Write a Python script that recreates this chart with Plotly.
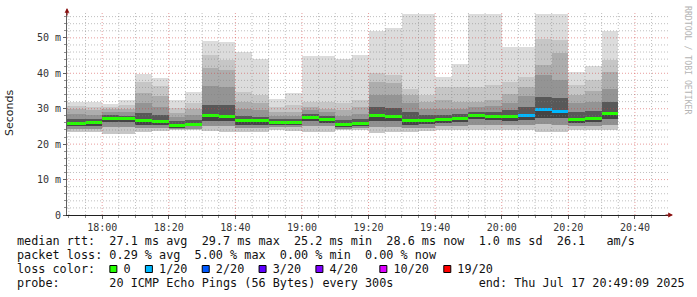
import plotly.graph_objects as go
import pandas as pd

# ---- data ----
end_times = ["17:50", "17:55", "18:00", "18:05", "18:10", "18:15", "18:20", "18:25", "18:30",
             "18:35", "18:40", "18:45", "18:50", "18:55", "19:00", "19:05", "19:10", "19:15",
             "19:20", "19:25", "19:30", "19:35", "19:40", "19:45", "19:50", "19:55", "20:00",
             "20:05", "20:10", "20:15", "20:20", "20:25", "20:30", "20:35"]
p_max = [32.0, 32.0, 31.8, 31.4, 32.6, 39.8, 38.6, 32.6, 34.6, 49.2, 48.9, 46.1, 44.1, 32.8, 34.3,
         45.0, 44.8, 44.1, 45.2, 51.9, 52.8, 56.6, 56.6, 38.9, 42.7, 56.6, 56.6, 47.4, 47.4, 56.6,
         56.6, 40.4, 42.1, 51.9]
p_hi4 = [30.8, 30.8, 30.6, 30.5, 31.0, 37.5, 36.5, 30.2, 31.5, 45.2, 43.8, 34.8, 33.8, 30.5, 31.0,
         32.0, 31.8, 31.5, 32.5, 40.1, 39.6, 35.7, 34.0, 36.0, 36.0, 36.0, 36.6, 37.5, 38.9, 49.8,
         49.3, 36.6, 38.0, 43.7]
p_hi3 = [29.8, 29.8, 29.5, 29.8, 30.0, 34.5, 33.5, 28.8, 29.8, 41.5, 41.0, 32.0, 31.5, 29.0, 29.0,
         30.5, 30.0, 29.5, 30.5, 37.5, 37.3, 33.8, 32.0, 32.5, 32.0, 32.0, 32.5, 34.2, 36.0, 42.3,
         45.6, 34.0, 35.0, 40.4]
p_hi2 = [28.5, 28.5, 28.3, 29.0, 29.0, 31.5, 30.5, 27.8, 28.3, 36.5, 36.2, 30.0, 29.5, 28.0, 28.0,
         29.5, 29.0, 28.0, 28.5, 34.0, 33.8, 31.5, 30.0, 29.8, 30.0, 30.5, 30.8, 31.5, 33.5, 39.4,
         38.0, 31.5, 32.0, 35.7]
p_hi1 = [27.0, 27.0, 27.0, 28.2, 28.0, 28.8, 28.2, 26.5, 26.8, 31.0, 31.0, 28.0, 27.8, 27.0, 27.0,
         28.4, 28.0, 26.8, 27.0, 30.5, 30.3, 29.0, 28.3, 28.3, 28.5, 29.0, 29.2, 29.5, 30.5, 33.3,
         32.9, 29.0, 29.3, 32.0]
p_med = [25.9, 25.9, 26.1, 27.3, 27.2, 26.7, 26.5, 25.2, 25.6, 28.0, 27.8, 26.6, 26.6, 26.1, 26.1,
         27.4, 26.9, 25.5, 25.8, 28.0, 27.9, 26.7, 26.7, 26.9, 27.3, 28.0, 27.9, 27.7, 28.1, 29.7,
         29.3, 27.0, 27.3, 28.6]
p_lo1 = [25.0, 25.0, 25.2, 26.3, 26.3, 25.5, 25.5, 24.8, 25.0, 26.5, 26.5, 25.5, 25.5, 25.5, 25.5,
         26.5, 26.0, 25.0, 25.2, 26.5, 26.5, 25.5, 25.6, 26.0, 26.3, 27.0, 26.8, 26.6, 26.8, 27.5,
         27.3, 26.0, 26.3, 27.0]
p_lo2 = [24.2, 24.2, 24.2, 24.8, 24.8, 24.5, 24.5, 24.4, 24.5, 25.0, 25.0, 24.5, 24.5, 24.8, 24.8,
         25.0, 25.0, 24.5, 24.6, 24.8, 24.8, 24.5, 24.6, 25.0, 25.2, 25.5, 25.5, 25.3, 25.5, 25.8,
         25.5, 25.0, 25.2, 25.5]
p_min = [23.4, 23.4, 23.3, 22.9, 23.0, 23.5, 23.6, 24.0, 24.0, 23.6, 23.5, 23.5, 23.4, 24.0, 23.8,
         23.3, 23.5, 24.0, 24.0, 23.2, 23.3, 23.5, 23.6, 24.0, 24.0, 24.0, 24.0, 24.0, 24.0, 23.5,
         23.5, 24.0, 24.0, 24.0]
loss = [0, 0, 0, 0, 0, 0, 0, 0, 0, 0, 0, 0, 0, 0, 0, 0, 0, 0, 0, 0, 0, 0, 0, 0, 0, 0, 0, 0,
        1, 1, 1, 0, 0, 0]

y_ticks = [0, 10, 20, 30, 40, 50]
y_tick_text = ["0", "10 m", "20 m", "30 m", "40 m", "50 m"]
x_tick_times = ["18:00", "18:20", "18:40", "19:00", "19:20", "19:40", "20:00", "20:20", "20:40"]

loss_labels = ["0", "1/20", "2/20", "3/20", "4/20", "10/20", "19/20"]
loss_colors = ["#26ff00", "#00b8ff", "#0059ff", "#5e00ff", "#7e00ff", "#dd00ff", "#ff0000"]

stat_line = "median rtt:  27.1 ms avg  29.7 ms max  25.2 ms min  28.6 ms now  1.0 ms sd  26.1   am/s"
loss_line = "packet loss: 0.29 % avg  5.00 % max  0.00 % min  0.00 % now"
probe_line = "probe:       20 ICMP Echo Pings (56 Bytes) every 300s            end: Thu Jul 17 20:49:09 2025"
watermark = "RRDTOOL / TOBI OETIKER"

# ---- figure ----
DAY = "2025-07-17 "
ends = pd.to_datetime([DAY + t for t in end_times])
mids = ends - pd.Timedelta(minutes=2.5)
STEP_MS = 5 * 60 * 1000

W, H = 697, 297
L, R, T, B = 67, 29, 12, 82
PW, PH = W - L - R, H - T - B
YTOP = 57.3

fig = go.Figure()

levels = [p_min, p_lo2, p_lo1, p_med, p_hi1, p_hi2, p_hi3, p_hi4, p_max]
band_colors = ["#c6c6c6", "#909090", "#444444", "#585858", "#949494", "#adadad", "#c6c6c6", "#dcdcdc"]
for i, col in enumerate(band_colors):
    lo, hi = levels[i], levels[i + 1]
    fig.add_trace(go.Bar(
        x=mids, base=lo, y=[h - l for l, h in zip(lo, hi)], width=STEP_MS,
        marker=dict(color=col, line=dict(width=0)), hoverinfo="skip", showlegend=False))

MED_H = 0.85
fig.add_trace(go.Bar(
    x=mids, base=[m - MED_H / 2 for m in p_med], y=[MED_H] * len(p_med), width=STEP_MS,
    marker=dict(color=[loss_colors[k] for k in loss], line=dict(width=0)),
    hoverinfo="skip", showlegend=False))

x0 = pd.Timestamp(DAY + "17:49:26")
x1 = pd.Timestamp(DAY + "20:49:56")

# grid drawn above the smoke like rrdtool
shapes = []
minor_grid = "rgba(130,130,130,0.5)"
major_grid = "rgba(210,60,60,0.5)"
for v in range(2, 57, 2):
    shapes.append(dict(type="line", xref="paper", yref="y", x0=0, x1=1, y0=v, y1=v, layer="above",
                       line=dict(color=major_grid if v % 10 == 0 else minor_grid, width=1, dash="1px,2px")))
t = pd.Timestamp(DAY + "17:50")
while t <= x1:
    major = (t.minute % 20 == 0)
    shapes.append(dict(type="line", xref="x", yref="paper", x0=t, x1=t, y0=0, y1=1, layer="above",
                       line=dict(color=major_grid if major else minor_grid, width=1, dash="1px,2px")))
    t += pd.Timedelta(minutes=5)

MONO = "DejaVu Sans Mono"
FS = 11.8
CW = FS * 0.6021
NB = "\u00a0"

def px_x(px):
    return (px - L) / PW

def px_y(py):
    return (T + PH - py) / PH

annotations = []
def line_text(s, py):
    annotations.append(dict(text=s.replace(" ", NB), x=px_x(16), y=px_y(py), xref="paper", yref="paper",
                            xanchor="left", yanchor="middle", showarrow=False, borderpad=0,
                            font=dict(family=MONO, size=FS, color="#111111")))

# loss color line with box positions
s = "loss color:  "
box_cols = []
for i, lab in enumerate(loss_labels):
    box_cols.append(len(s))
    s += "  " + lab
    if i < len(loss_labels) - 1:
        s += "   " if lab == "4/20" else "  "
line_text(stat_line, 241)
line_text(loss_line, 255)
line_text(s, 269)
line_text(probe_line, 283)

for c, col in zip(box_cols, loss_colors):
    bx = 16 + c * CW + 1.5
    shapes.append(dict(type="rect", xref="paper", yref="paper",
                       x0=px_x(bx), x1=px_x(bx + 7), y0=px_y(272.5), y1=px_y(265.5),
                       fillcolor=col, line=dict(color="#000000", width=1)))

annotations.append(dict(text="Seconds", x=px_x(10), y=px_y(113), xref="paper", yref="paper",
                        textangle=-90, showarrow=False, xanchor="center", yanchor="middle",
                        font=dict(family="DejaVu Sans", size=11, color="#222222")))
annotations.append(dict(text=watermark, x=px_x(688), y=px_y(60), xref="paper", yref="paper",
                        textangle=90, showarrow=False, xanchor="center", yanchor="middle",
                        font=dict(family=MONO, size=8.2, color="#b4b4b4")))
# axis arrows
annotations.append(dict(text="", x=px_x(673), y=0, xref="paper", yref="paper", ax=-9, ay=0,
                        showarrow=True, arrowhead=2, arrowsize=0.8, arrowwidth=1.2, arrowcolor="#8b1010"))
annotations.append(dict(text="", x=0, y=px_y(8), xref="paper", yref="paper", ax=0, ay=9,
                        showarrow=True, arrowhead=2, arrowsize=0.8, arrowwidth=1.2, arrowcolor="#8b1010"))

fig.update_layout(
    width=W, height=H, margin=dict(l=L, r=R, t=T, b=B),
    paper_bgcolor="white", plot_bgcolor="white",
    barmode="overlay", bargap=0, showlegend=False,
    shapes=shapes, annotations=annotations,
    xaxis=dict(type="date", range=[x0, x1], showgrid=False, zeroline=False,
               tickvals=pd.to_datetime([DAY + t for t in x_tick_times]), ticktext=x_tick_times,
               ticks="outside", ticklen=3, tickcolor="#606060",
               minor=dict(dtick=5 * 60 * 1000, tick0=DAY + "17:50", ticks="outside", ticklen=2, tickcolor="#909090"),
               showline=True, linecolor="#202020", linewidth=1, layer="above traces",
               tickfont=dict(family=MONO, size=10, color="#333333"), fixedrange=True),
    yaxis=dict(range=[0, YTOP], showgrid=False, zeroline=False,
               tickvals=y_ticks, ticktext=y_tick_text,
               ticks="outside", ticklen=3, tickcolor="#606060",
               minor=dict(dtick=2, ticks="outside", ticklen=2, tickcolor="#909090"),
               showline=True, linecolor="#606060", linewidth=1, layer="above traces",
               tickfont=dict(family=MONO, size=10, color="#333333"), fixedrange=True),
)

fig.write_html("out.html", config={"displayModeBar": False})
